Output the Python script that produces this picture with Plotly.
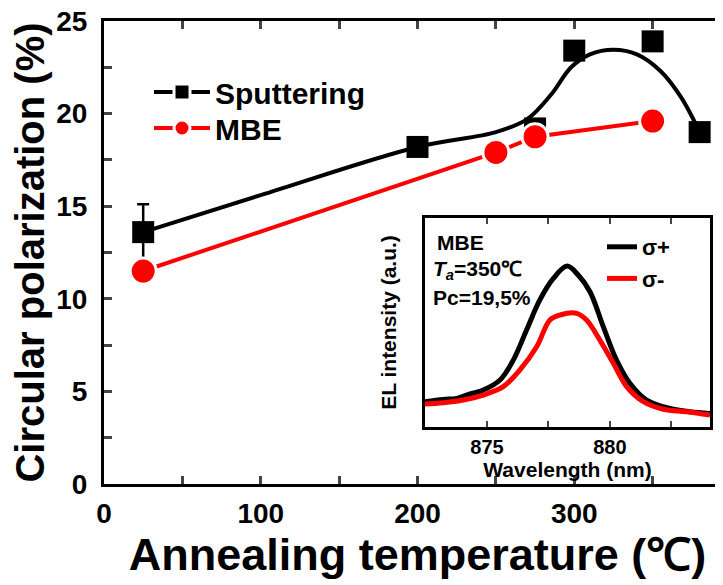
import plotly.graph_objects as go

# ---------------- data ----------------
# main panel: annealing temperature (C) vs circular polarization (%)
sput_T = [25, 200, 275, 300, 350, 380]
sput_P = [13.6, 18.2, 19.2, 23.4, 23.9, 19.0]
sput_err = [1.5, 0, 0, 0, 0, 0]

# smooth guide curve for sputtering
fit_T = [25, 100, 200, 250, 270, 285, 298, 310, 325, 340, 355, 368, 380]
fit_P = [13.6, 15.6, 18.2, 19.0, 19.7, 21.0, 22.5, 23.2, 23.45, 23.2, 22.3, 20.9, 19.0]

mbe_T = [25, 250, 275, 350]
mbe_P = [11.5, 17.9, 18.75, 19.6]

# inset: EL spectra
wl_plus = [872.48, 873.22, 873.77, 874.31, 874.85, 875.53, 876.07, 876.61, 877.15, 877.70,
           878.26, 878.71, 879.19, 879.73, 880.27, 880.81, 881.49, 882.44, 883.25, 884.07]
el_plus = [0.121, 0.132, 0.137, 0.158, 0.177, 0.225, 0.320, 0.464, 0.608, 0.711,
           0.770, 0.727, 0.647, 0.480, 0.320, 0.209, 0.129, 0.089, 0.073, 0.065]
wl_minus = [872.48, 873.22, 874.04, 874.85, 875.66, 876.34, 877.02, 877.56, 877.97, 878.65,
            879.05, 879.59, 880.14, 880.68, 881.36, 882.17, 883.12, 884.07]
el_minus = [0.110, 0.116, 0.129, 0.153, 0.193, 0.273, 0.384, 0.512, 0.536, 0.544,
            0.512, 0.416, 0.305, 0.193, 0.121, 0.085, 0.073, 0.057]

x_ticks = [0, 100, 200, 300]
y_ticks = [0, 5, 10, 15, 20, 25]
inset_ticks = [875, 880]

FONT = "Liberation Sans, Arial, sans-serif"

fig = go.Figure()

# sputtering guide curve
fig.add_trace(go.Scatter(x=fit_T, y=fit_P, mode="lines", line=dict(color="black", width=4, shape="spline"),
                         showlegend=False, hoverinfo="skip"))
# sputtering points
fig.add_trace(go.Scatter(x=sput_T, y=sput_P, mode="markers",
                         marker=dict(symbol="square", size=22, color="black"),
                         error_y=dict(type="data", array=sput_err, visible=True, color="black", thickness=2.5, width=6),
                         showlegend=False))
# MBE
fig.add_trace(go.Scatter(x=mbe_T, y=mbe_P, mode="lines+markers",
                         line=dict(color="red", width=4),
                         marker=dict(symbol="circle", size=26, color="red", line=dict(color="white", width=3)),
                         showlegend=False))
# legend entries
fig.add_trace(go.Scatter(x=[None], y=[None], mode="lines+markers", name="Sputtering",
                         line=dict(color="black", width=4), legend="legend",
                         marker=dict(symbol="square", size=20, color="black", line=dict(color="white", width=3))))
fig.add_trace(go.Scatter(x=[None], y=[None], mode="lines+markers", name="MBE",
                         line=dict(color="red", width=4), legend="legend3",
                         marker=dict(symbol="circle", size=22, color="red", line=dict(color="white", width=3))))

# inset spectra
fig.add_trace(go.Scatter(x=wl_plus, y=el_plus, mode="lines", name="σ+", xaxis="x2", yaxis="y2",
                         line=dict(color="black", width=5, shape="spline"), legend="legend2"))
fig.add_trace(go.Scatter(x=wl_minus, y=el_minus, mode="lines", name="σ-", xaxis="x2", yaxis="y2",
                         line=dict(color="red", width=5, shape="spline"), legend="legend2"))

W, H = 723, 585
OFF = 8  # page body offset of the plot div
ml, mr, mt, mb = 96, 0, 13, 109
pw, ph = W - ml - mr, H - mt - mb

def dx(px):
    return (px - OFF - ml) / pw

def dy(py):
    return (H - mb - (py - OFF)) / ph

fig.update_layout(
    width=W, height=H,
    margin=dict(l=ml, r=mr, t=mt, b=mb, pad=0, autoexpand=False),
    paper_bgcolor="white", plot_bgcolor="white",
    font=dict(family=FONT, color="black", weight="bold"),
    xaxis=dict(range=[0, 400], tickvals=x_ticks, ticks="inside", ticklen=8, tickwidth=2.5, automargin=False,
               minor=dict(dtick=50, ticks="inside", ticklen=8, tickwidth=2.5, showgrid=False, tick0=0),
               showline=True, linewidth=3, linecolor="black", mirror="ticks", showgrid=False, zeroline=False,
               tickfont=dict(size=28, family=FONT, weight="bold"), ticklabelstandoff=2,
               title=dict(text="Annealing temperature (℃)", font=dict(size=45, family=FONT, weight="bold"), standoff=0)),
    yaxis=dict(range=[0, 25], tickvals=y_ticks, ticks="inside", ticklen=8, tickwidth=2.5, automargin=False,
               minor=dict(dtick=2.5, ticks="inside", ticklen=8, tickwidth=2.5, showgrid=False, tick0=0),
               showline=True, linewidth=3, linecolor="black", mirror=False, showgrid=False, zeroline=False,
               ticklabeloverflow="allow",
               tickfont=dict(size=28, family=FONT, weight="bold"), ticklabelstandoff=8,
               title=dict(text="Circular polarization (%)", font=dict(size=40, family=FONT, weight="bold"), standoff=4)),
    xaxis2=dict(domain=[dx(425), dx(710)], anchor="y2", range=[872.48, 884.07], tickvals=inset_ticks,
                ticks="inside", ticklen=6, tickwidth=2, automargin=False,
                minor=dict(dtick=2.5, tick0=875, ticks="inside", ticklen=6, tickwidth=2, showgrid=False),
                showline=True, linewidth=2.5, linecolor="black", mirror="ticks", showgrid=False, zeroline=False,
                tickfont=dict(size=20, family=FONT, weight="bold"), ticklabelstandoff=0,
                title=dict(text="Wavelength (nm)", font=dict(size=21, family=FONT, weight="bold"), standoff=0)),
    yaxis2=dict(domain=[dy(427), dy(218)], anchor="x2", range=[0, 1], showticklabels=False, ticks="",
                showline=True, linewidth=2.5, linecolor="black", mirror=True, showgrid=False, zeroline=False,
                automargin=False,
                title=dict(text="EL intensity (a.u.)", font=dict(size=21, family=FONT, weight="bold"), standoff=20)),
    legend=dict(x=dx(149), y=dy(66), xanchor="left", yanchor="top", bgcolor="rgba(0,0,0,0)",
                font=dict(size=30, family=FONT, weight="bold"), itemwidth=56),
    legend3=dict(x=dx(149), y=dy(102), xanchor="left", yanchor="top", bgcolor="rgba(0,0,0,0)",
                 font=dict(size=30, family=FONT, weight="bold"), itemwidth=56),
    legend2=dict(x=dx(602), y=dy(226), xanchor="left", yanchor="top", bgcolor="rgba(0,0,0,0)",
                 font=dict(size=22, family=FONT, weight="bold"), itemwidth=30),
)

fig.add_annotation(xref="paper", yref="paper", x=dx(435), y=dy(242), xanchor="left", yanchor="middle",
                   text="MBE", showarrow=False, font=dict(size=21, family=FONT, weight="bold"))
fig.add_annotation(xref="paper", yref="paper", x=dx(431), y=dy(270), xanchor="left", yanchor="middle",
                   text="<i>T</i><sub><i>a</i></sub>=350℃", showarrow=False, font=dict(size=21, family=FONT, weight="bold"))
fig.add_annotation(xref="paper", yref="paper", x=dx(431), y=dy(297), xanchor="left", yanchor="middle",
                   text="Pc=19,5%", showarrow=False, font=dict(size=21, family=FONT, weight="bold"))

fig.write_html("out.html")
